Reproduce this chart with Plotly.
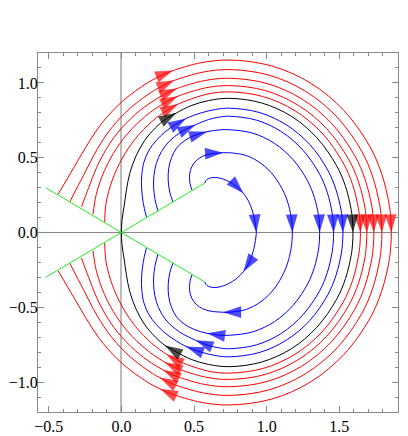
import plotly.graph_objects as go

# upper half of each path (start on the green line -> crossing of y=0); the
# lower half is the mirror image
r1_x = [-0.436, -0.328, -0.219, -0.126, 0.014, 0.177, 0.265, 0.319, 0.356, 0.548, 0.745,
        1.033, 1.302, 1.532, 1.709, 1.791, 1.841, 1.854, 1.858]
r1_y = [0.255, 0.433, 0.611, 0.741, 0.883, 0.999, 1.045, 1.069, 1.083, 1.135, 1.153,
        1.114, 0.999, 0.815, 0.577, 0.394, 0.200, 0.100, 0.0]
r2_x = [-0.356, -0.262, -0.167, -0.067, 0.064, 0.215, 0.264, 0.314, 0.365, 0.561, 0.745,
        1.016, 1.269, 1.486, 1.653, 1.730, 1.777, 1.789, 1.793]
r2_y = [0.204, 0.380, 0.556, 0.700, 0.834, 0.943, 0.970, 0.995, 1.017, 1.072, 1.089,
        1.052, 0.943, 0.770, 0.545, 0.372, 0.189, 0.095, 0.0]
r3_x = [-0.275, -0.225, -0.170, -0.111, -0.029, 0.096, 0.210, 0.287, 0.334, 0.383, 0.570, 0.745,
        1.002, 1.242, 1.447, 1.605, 1.678, 1.723, 1.734, 1.738]
r3_y = [0.171, 0.300, 0.436, 0.546, 0.663, 0.790, 0.874, 0.919, 0.942, 0.963, 1.015, 1.031,
        0.996, 0.893, 0.729, 0.516, 0.353, 0.179, 0.090, 0.0]
r4_x = [-0.195, -0.173, -0.116, -0.033, 0.073, 0.200, 0.299, 0.344, 0.389, 0.580, 0.745,
        0.990, 1.218, 1.413, 1.563, 1.633, 1.676, 1.686, 1.690]
r4_y = [0.122, 0.254, 0.415, 0.563, 0.694, 0.804, 0.867, 0.890, 0.911, 0.967, 0.982,
        0.949, 0.850, 0.694, 0.491, 0.336, 0.170, 0.086, 0.0]
r5_x = [-0.115, -0.106, -0.062, 0.007, 0.098, 0.209, 0.310, 0.350, 0.391, 0.594, 0.745,
        0.978, 1.195, 1.381, 1.524, 1.591, 1.631, 1.642, 1.645]
r5_y = [0.071, 0.195, 0.352, 0.498, 0.629, 0.741, 0.814, 0.838, 0.859, 0.926, 0.940,
        0.908, 0.814, 0.665, 0.470, 0.322, 0.163, 0.082, 0.0]
k_x = [0.0, 0.004, 0.018, 0.034, 0.057, 0.10, 0.16, 0.235, 0.30, 0.34, 0.38, 0.48, 0.60, 0.745,
       0.965, 1.170, 1.345, 1.480, 1.543, 1.581, 1.591, 1.594]
k_y = [0.0, 0.08, 0.171, 0.28, 0.393, 0.51, 0.615, 0.70, 0.755, 0.778, 0.80, 0.848, 0.882, 0.897,
       0.866, 0.777, 0.634, 0.449, 0.307, 0.156, 0.078, 0.0]
b1_x = [0.172, 0.150, 0.139, 0.140, 0.155, 0.19, 0.24, 0.30, 0.37, 0.445, 0.55, 0.65, 0.745,
        0.947, 1.135, 1.297, 1.421, 1.478, 1.513, 1.522, 1.525]
b1_y = [0.104, 0.20, 0.30, 0.38, 0.47, 0.55, 0.615, 0.672, 0.72, 0.762, 0.80, 0.823, 0.831,
        0.803, 0.720, 0.588, 0.416, 0.284, 0.144, 0.072, 0.0]
b2_x = [0.252, 0.232, 0.222, 0.224, 0.24, 0.275, 0.33, 0.40, 0.46, 0.51, 0.60, 0.67, 0.745,
        0.930, 1.103, 1.251, 1.365, 1.418, 1.450, 1.458, 1.461]
b2_y = [0.144, 0.22, 0.30, 0.38, 0.46, 0.54, 0.61, 0.665, 0.697, 0.72, 0.755, 0.771, 0.777,
        0.751, 0.673, 0.549, 0.389, 0.266, 0.135, 0.068, 0.0]
b3_x = [0.355, 0.333, 0.322, 0.326, 0.345, 0.38, 0.43, 0.50, 0.59, 0.675, 0.745,
        0.905, 1.055, 1.183, 1.282, 1.328, 1.356, 1.363, 1.365]
b3_y = [0.204, 0.27, 0.35, 0.43, 0.50, 0.565, 0.61, 0.648, 0.674, 0.686, 0.687,
        0.664, 0.595, 0.486, 0.344, 0.235, 0.119, 0.060, 0.0]
b4_x = [0.486, 0.472, 0.470, 0.485, 0.515, 0.56, 0.61, 0.66, 0.70, 0.745,
        0.857, 0.961, 1.051, 1.119, 1.151, 1.170, 1.175, 1.177]
b4_y = [0.282, 0.33, 0.39, 0.44, 0.48, 0.51, 0.525, 0.531, 0.533, 0.533,
        0.515, 0.462, 0.377, 0.267, 0.182, 0.093, 0.047, 0.0]
b5_x = [0.573, 0.59, 0.625, 0.67, 0.72, 0.765, 0.80, 0.84, 0.875, 0.90, 0.918, 0.926, 0.929]
b5_y = [0.33, 0.355, 0.367, 0.365, 0.35, 0.327, 0.302, 0.262, 0.21, 0.15, 0.08, 0.03, 0.0]

# (x, y, colour, index of upper arrow tip, index whose mirror carries the lower arrow)
paths = [
    (r1_x, r1_y, "#ff0000", 8, 6),
    (r2_x, r2_y, "#ff0000", 8, 6),
    (r3_x, r3_y, "#ff0000", 9, 7),
    (r4_x, r4_y, "#ff0000", 8, 6),
    (r5_x, r5_y, "#ff0000", 8, 6),
    (k_x, k_y, "#000000", 10, 8),
    (b1_x, b1_y, "#0000ff", 9, 9),
    (b2_x, b2_y, "#0000ff", 9, 9),
    (b3_x, b3_y, "#0000ff", 8, 8),
    (b4_x, b4_y, "#0000ff", 8, 8),
    (b5_x, b5_y, "#0000ff", 7, 7),
]

wedge_x = [-0.521, 0.0, 0.573]
wedge_y = [0.300, 0.0, -0.330]

fig = go.Figure()

for xs, ys, col, it, ib in paths:
    n = len(xs)
    fx = xs + xs[-2::-1]
    fy = ys + [-v for v in ys[-2::-1]]
    sizes = [0] * len(fx)
    for i in (it, n - 1, 2 * n - 2 - ib):
        sizes[i] = 19
    fig.add_trace(go.Scatter(x=fx, y=fy, mode="lines",
                             line=dict(color=col, width=1, shape="spline"),
                             hoverinfo="skip"))
    fig.add_trace(go.Scatter(x=fx, y=fy, mode="markers",
                             marker=dict(symbol="arrow", size=sizes, color=col,
                                         angleref="previous", line=dict(width=0)),
                             hoverinfo="skip"))

for sgn in (1, -1):
    fig.add_trace(go.Scatter(x=wedge_x, y=[sgn * v for v in wedge_y], mode="lines",
                             line=dict(color="#22ee22", width=1), hoverinfo="skip"))

ax = dict(showgrid=False, zeroline=True,
          showline=True, linecolor="#888888", linewidth=1, mirror="ticks",
          ticks="inside", ticklen=6, tickcolor="#888888", tick0=0, dtick=0.5,
          tickformat=".1f", automargin=False,
          minor=dict(dtick=0.1, tick0=0, ticks="inside", ticklen=3, tickcolor="#888888"),
          tickfont=dict(family="Liberation Serif", size=16, color="black"))

# the page body adds an 8 px offset, so the figure is 8 px smaller each way
fig.update_layout(
    width=400, height=428,
    margin=dict(l=30, r=10, t=45, b=24),
    paper_bgcolor="white", plot_bgcolor="white",
    showlegend=False,
    xaxis=dict(ax, range=[-0.574, 1.904], zerolinecolor="#bbbbbb", zerolinewidth=1.5),
    yaxis=dict(ax, range=[-1.2, 1.2], zerolinecolor="#888888", zerolinewidth=1,
               ticklabelstandoff=-4),
)

fig.write_html("out.html")
